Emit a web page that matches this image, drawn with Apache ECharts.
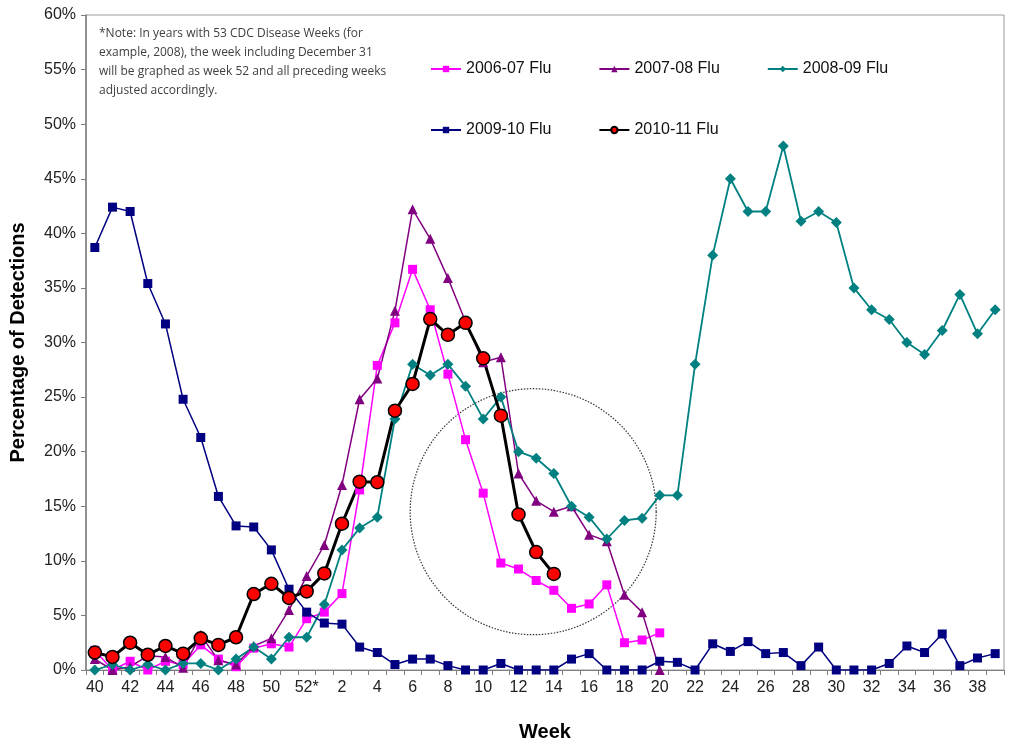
<!DOCTYPE html>
<html>
<head>
<meta charset="utf-8">
<script src="https://cdn.jsdelivr.net/npm/echarts@6/dist/echarts.min.js"></script>
<style>
  html, body { margin: 0; padding: 0; background: #fff; }
  #chart { width: 1011px; height: 749px; }
</style>
</head>
<body>
<div id="chart"></div>
<script>
// weeks 40..52 then 1..39
const weeks = ['40','41','42','43','44','45','46','47','48','49','50','51','52*',
  '1','2','3','4','5','6','7','8','9','10','11','12','13','14','15','16','17','18','19','20',
  '21','22','23','24','25','26','27','28','29','30','31','32','33','34','35','36','37','38','39'];

const flu0607 = [1.8, 0, 0.8, 0, 0.8, 0.5, 2.3, 1.0, 0.3, 2.0, 2.4, 2.1, 4.7,
  5.3, 7.0, 16.5, 27.9, 31.8, 36.7, 33.0, 27.1, 21.1, 16.2, 9.8, 9.25, 8.2, 7.3, 5.65, 6.05, 7.8, 2.5, 2.75, 3.4];

const flu0708 = [1.0, 0, 0.3, 1.3, 1.2, 0.2, 3.2, 0.9, 0.5, 2.2, 2.9, 5.5, 8.6,
  11.45, 16.95, 24.8, 26.7, 32.9, 42.2, 39.5, 35.9, 31.9, 28.2, 28.65, 18.0, 15.5, 14.5, 15.0, 12.4, 11.8, 6.9, 5.3, 0];

const flu0809 = [0, 0.5, 0, 0.5, 0, 0.6, 0.6, 0, 1.0, 2.1, 1.0, 3.0, 3.0,
  6.0, 11.0, 13.0, 14.0, 23.0, 28.0, 27.0, 28.0, 26.0, 23.0, 25.0, 20.0, 19.4, 18.0, 15.0, 14.0, 12.0, 13.7, 13.9, 16.0,
  16.0, 28.0, 38.0, 45.0, 42.0, 42.0, 48.0, 41.1, 42.0, 41.0, 35.0, 33.0, 32.1, 30.0, 28.9, 31.1, 34.4, 30.8, 33.0];

const flu0910 = [38.7, 42.4, 42.0, 35.4, 31.7, 24.8, 21.3, 15.9, 13.2, 13.1, 11.0, 7.4, 5.3,
  4.3, 4.2, 2.1, 1.6, 0.5, 1.0, 1.0, 0.4, 0, 0, 0.6, 0, 0, 0, 1.0, 1.5, 0, 0, 0, 0.8,
  0.7, 0, 2.4, 1.7, 2.6, 1.5, 1.6, 0.4, 2.1, 0, 0, 0, 0.6, 2.2, 1.6, 3.3, 0.4, 1.1, 1.5];

const flu1011 = [1.6, 1.2, 2.5, 1.4, 2.2, 1.5, 2.9, 2.3, 3.0, 6.96, 7.9, 6.6, 7.2,
  8.85, 13.4, 17.25, 17.2, 23.75, 26.2, 32.15, 30.7, 31.8, 28.55, 23.3, 14.25, 10.8, 8.8];

const noteLines = [
  '*Note: In years with 53 CDC Disease Weeks (for',
  'example, 2008), the week including December 31',
  'will be graphed as week 52 and all preceding weeks',
  'adjusted accordingly.'
];

// dotted circle annotation around the spring tail
const circleWeek = '13';
const circleValue = 14.5;
const circleRadius = 123;

const FONT = '"Liberation Sans", Arial, sans-serif';

const chart = echarts.init(document.getElementById('chart'), null, { renderer: 'canvas' });

const mkSeries = (name, data, color, symbol, size, width, extra) => Object.assign({
  name: name,
  type: 'line',
  data: data,
  symbol: symbol,
  symbolSize: size,
  showSymbol: true,
  showAllSymbol: true,
  animation: false,
  lineStyle: { color: color, width: width },
  itemStyle: { color: color }
}, extra || {});

const legendText = { fontFamily: FONT, fontSize: 16, color: '#111' };

const option = {
  animation: false,
  grid: {
    left: 86, right: 7, top: 15, bottom: 79,
    show: true, borderColor: '#9a9a9a', borderWidth: 1
  },
  legend: [
    {
      data: ['2006-07 Flu', '2007-08 Flu', '2008-09 Flu'],
      left: 430, top: 61, padding: 0, itemGap: 47,
      itemWidth: 30, itemHeight: 8, textStyle: legendText
    },
    {
      data: ['2009-10 Flu', '2010-11 Flu'],
      left: 430, top: 122, padding: 0, itemGap: 47,
      itemWidth: 30, itemHeight: 8, textStyle: legendText
    }
  ],
  xAxis: {
    type: 'category',
    data: weeks,
    boundaryGap: true,
    name: 'Week',
    nameLocation: 'middle',
    nameGap: 52,
    nameTextStyle: { fontFamily: FONT, fontSize: 20, fontWeight: 'bold', color: '#000' },
    axisLine: { lineStyle: { color: '#7f7f7f', width: 1 } },
    axisTick: { show: true, interval: 0, length: 5, lineStyle: { color: '#7f7f7f' } },
    axisLabel: { interval: 1, fontFamily: FONT, fontSize: 16, color: '#222', margin: 10 },
    splitLine: { show: false }
  },
  yAxis: {
    type: 'value',
    min: 0, max: 60, interval: 5,
    name: 'Percentage of Detections',
    nameLocation: 'middle',
    nameGap: 58,
    nameTextStyle: { fontFamily: FONT, fontSize: 20, fontWeight: 'bold', color: '#000' },
    axisLine: { show: true, lineStyle: { color: '#7f7f7f', width: 1.5 } },
    axisTick: { show: true, length: 5, lineStyle: { color: '#7f7f7f' } },
    axisLabel: { fontFamily: FONT, fontSize: 16, color: '#222', margin: 10, formatter: '{value}%' },
    splitLine: { show: false }
  },
  graphic: [
    {
      type: 'text',
      left: 99, top: 24,
      style: {
        text: noteLines.join('\n'),
        font: '12px "Open Sans", sans-serif',
        lineHeight: 19,
        fill: '#404040'
      }
    }
  ],
  series: [
    mkSeries('2006-07 Flu', flu0607, '#ff00ff', 'rect', 9, 1.5),
    mkSeries('2007-08 Flu', flu0708, '#800080', 'triangle', 10, 1.5),
    mkSeries('2008-09 Flu', flu0809, '#008080', 'diamond', 11, 1.8),
    mkSeries('2009-10 Flu', flu0910, '#000080', 'rect', 9, 1.5),
    mkSeries('2010-11 Flu', flu1011, '#ff0000', 'circle', 13, 3, {
      lineStyle: { color: '#000', width: 3 },
      itemStyle: { color: '#ff0000', borderColor: '#000', borderWidth: 1.5 }
    })
  ]
};

chart.setOption(option);

const c = chart.convertToPixel({ xAxisIndex: 0, yAxisIndex: 0 }, [circleWeek, circleValue]);
chart.setOption({
  graphic: [
    option.graphic[0],
    {
      type: 'circle',
      shape: { cx: c[0] - 3, cy: c[1], r: circleRadius },
      style: { fill: 'none', stroke: '#333', lineWidth: 1.2, lineDash: [1.5, 1.5] },
      silent: true,
      z: 1
    }
  ]
});
</script>
</body>
</html>
